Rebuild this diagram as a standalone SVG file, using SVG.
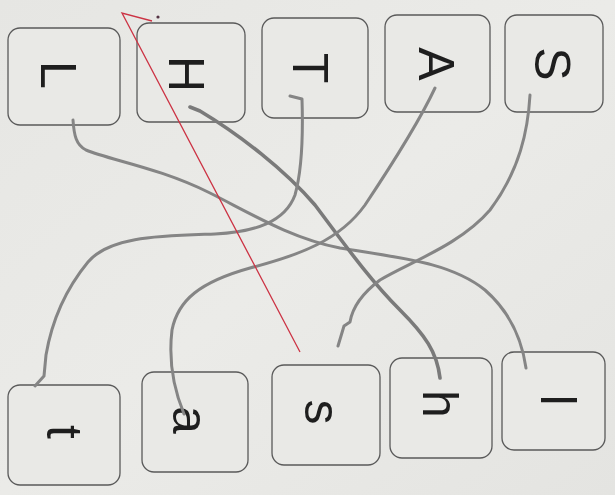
<svg xmlns="http://www.w3.org/2000/svg" width="615" height="495" viewBox="0 0 615 495">
<defs>
<linearGradient id="paper" x1="0" y1="0" x2="1" y2="1">
<stop offset="0" stop-color="#e6e6e3"/>
<stop offset="0.5" stop-color="#ebebe8"/>
<stop offset="1" stop-color="#e4e4e1"/>
</linearGradient>
<style>
.box{fill:#e9e9e6;stroke:#5a5a5a;stroke-width:1.3}
.lt{font-family:"Liberation Sans","DejaVu Sans",sans-serif;font-size:50px;fill:#1e1e1e;text-anchor:middle;dominant-baseline:central}
.wire{fill:none;stroke:#858585;stroke-width:3;stroke-linecap:round;stroke-linejoin:round}
.red{fill:none;stroke:#cc3344;stroke-width:1.3}
</style>
</defs>
<rect width="615" height="495" fill="url(#paper)"/>

<g id="node-L"><rect class="box" x="8" y="28" width="112" height="97" rx="12"/><text class="lt" x="58" y="75" transform="rotate(90 58 75)">L</text></g>
<g id="node-H"><rect class="box" x="137" y="23" width="108" height="99" rx="12"/><text class="lt" x="186" y="74" transform="rotate(90 186 74)">H</text></g>
<g id="node-T"><rect class="box" x="262" y="18" width="106" height="100" rx="12"/><text class="lt" x="310" y="68" transform="rotate(90 310 68)">T</text></g>
<g id="node-A"><rect class="box" x="385" y="15" width="105" height="97" rx="12"/><text class="lt" x="436" y="64" transform="rotate(90 436 64)">A</text></g>
<g id="node-S"><rect class="box" x="505" y="15" width="98" height="97" rx="12"/><text class="lt" x="552" y="64" transform="rotate(90 552 64)">S</text></g>

<g id="node-t"><rect class="box" x="8" y="385" width="112" height="100" rx="12"/><text class="lt" x="64" y="432" transform="rotate(90 64 432)">t</text></g>
<g id="node-a"><rect class="box" x="142" y="372" width="106" height="100" rx="12"/><text class="lt" x="190" y="420" transform="rotate(90 190 420)">a</text></g>
<g id="node-s"><rect class="box" x="272" y="365" width="108" height="100" rx="12"/><text class="lt" x="322" y="412" transform="rotate(90 322 412)">s</text></g>
<g id="node-h"><rect class="box" x="390" y="358" width="102" height="100" rx="12"/><text class="lt" x="440" y="404" transform="rotate(90 440 404)">h</text></g>
<g id="node-l"><rect class="box" x="502" y="352" width="103" height="98" rx="12"/><text class="lt" x="558" y="400" transform="rotate(90 558 400)">l</text></g>

<g id="connectors">
<path class="wire" d="M73,120 C74,135 76,145 86,150 C110,160 160,168 210,193 C250,213 290,238 340,248 C400,258 450,262 485,290 C510,312 522,340 526,368"/>
<path class="wire" style="stroke-width:3.6;stroke:#7a7a7a" d="M190,107 L200,111 C240,135 285,170 315,205 C345,245 370,280 400,310 C425,335 437,352 440,378"/>
<path class="wire" d="M290,96 L302,99 C303,130 302,170 295,195 C285,222 255,232 215,234 C160,236 110,236 88,262 C65,290 52,320 46,355 L44,376 L35,386"/>
<path class="wire" d="M435,88 C420,120 395,160 365,205 C340,240 300,255 250,268 C200,282 178,300 172,330 C169,355 172,385 184,414"/>
<path class="wire" d="M530,95 C528,130 520,170 490,210 C460,245 410,262 380,280 C360,295 352,310 350,322 L344,326 L338,346"/>
</g>

<path class="red" d="M300,352 L122,13 L152,21"/>
<circle cx="158" cy="17" r="1.6" fill="#553344"/>
</svg>
